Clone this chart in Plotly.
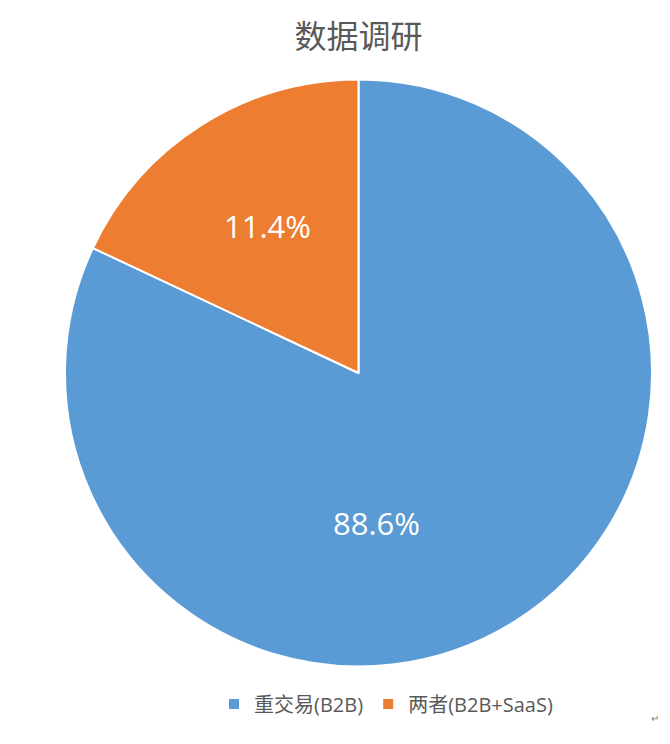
import plotly.graph_objects as go

# Data
categories = ["重交易(B2B)", "两者(B2B+SaaS)"]
slice_values = [82.0, 18.0]          # slice sizes as drawn in the picture
label_texts = ["88.6%", "11.4%"]     # data labels shown on the slices
colors = ["#5B9BD5", "#ED7D31"]
title_text = "数据调研"

W, H = 670, 744
OFF = 8  # page body margin
cx, cy, r = 358.5 - OFF, 373.0 - OFF, 293.5
# label offsets from pie centre, as fractions of radius (x right, y down)
label_offsets = [(0.06, 0.51), (-0.31, -0.50)]

fig = go.Figure(
    go.Pie(
        labels=categories,
        values=slice_values,
        text=label_texts,
        textinfo="none",
        marker=dict(colors=colors, line=dict(color="white", width=2)),
        sort=False,
        direction="clockwise",
        rotation=0,
        hoverinfo="label+text",
        domain=dict(
            x=[(cx - r) / W, (cx + r) / W],
            y=[(H - (cy + r)) / H, (H - (cy - r)) / H],
        ),
    )
)

annotations = []
for txt, (fx, fy) in zip(label_texts, label_offsets):
    annotations.append(
        dict(
            text=txt,
            x=(cx + fx * r) / W,
            y=1 - (cy + fy * r) / H,
            xref="paper",
            yref="paper",
            showarrow=False,
            xanchor="center",
            yanchor="middle",
            font=dict(size=31, color="white", family="Open Sans, Noto Sans CJK SC"),
        )
    )
annotations.append(
    dict(
        text="↵",
        x=(655 - OFF) / W,
        y=1 - (718 - OFF) / H,
        xref="paper",
        yref="paper",
        showarrow=False,
        xanchor="center",
        yanchor="middle",
        font=dict(size=10, color="#7F7F7F"),
    )
)

fig.update_layout(
    width=W,
    height=H,
    margin=dict(l=0, r=0, t=0, b=0),
    paper_bgcolor="white",
    plot_bgcolor="white",
    font=dict(family="Open Sans, Noto Sans CJK SC", color="#595959"),
    title=dict(
        text=title_text,
        x=cx / W,
        xanchor="center",
        y=1 - (37 - OFF) / H,
        yanchor="middle",
        font=dict(size=32, color="#595959", family="Noto Sans CJK SC"),
    ),
    showlegend=True,
    legend=dict(
        orientation="h",
        x=(234 - OFF - 20) / W,
        xanchor="left",
        y=1 - (704 - OFF) / H,
        yanchor="middle",
        font=dict(size=20, color="#595959", family="Open Sans, Noto Sans CJK SC"),
        itemwidth=30,
        traceorder="normal",
    ),
    annotations=annotations,
)

fig.write_html("out.html")
